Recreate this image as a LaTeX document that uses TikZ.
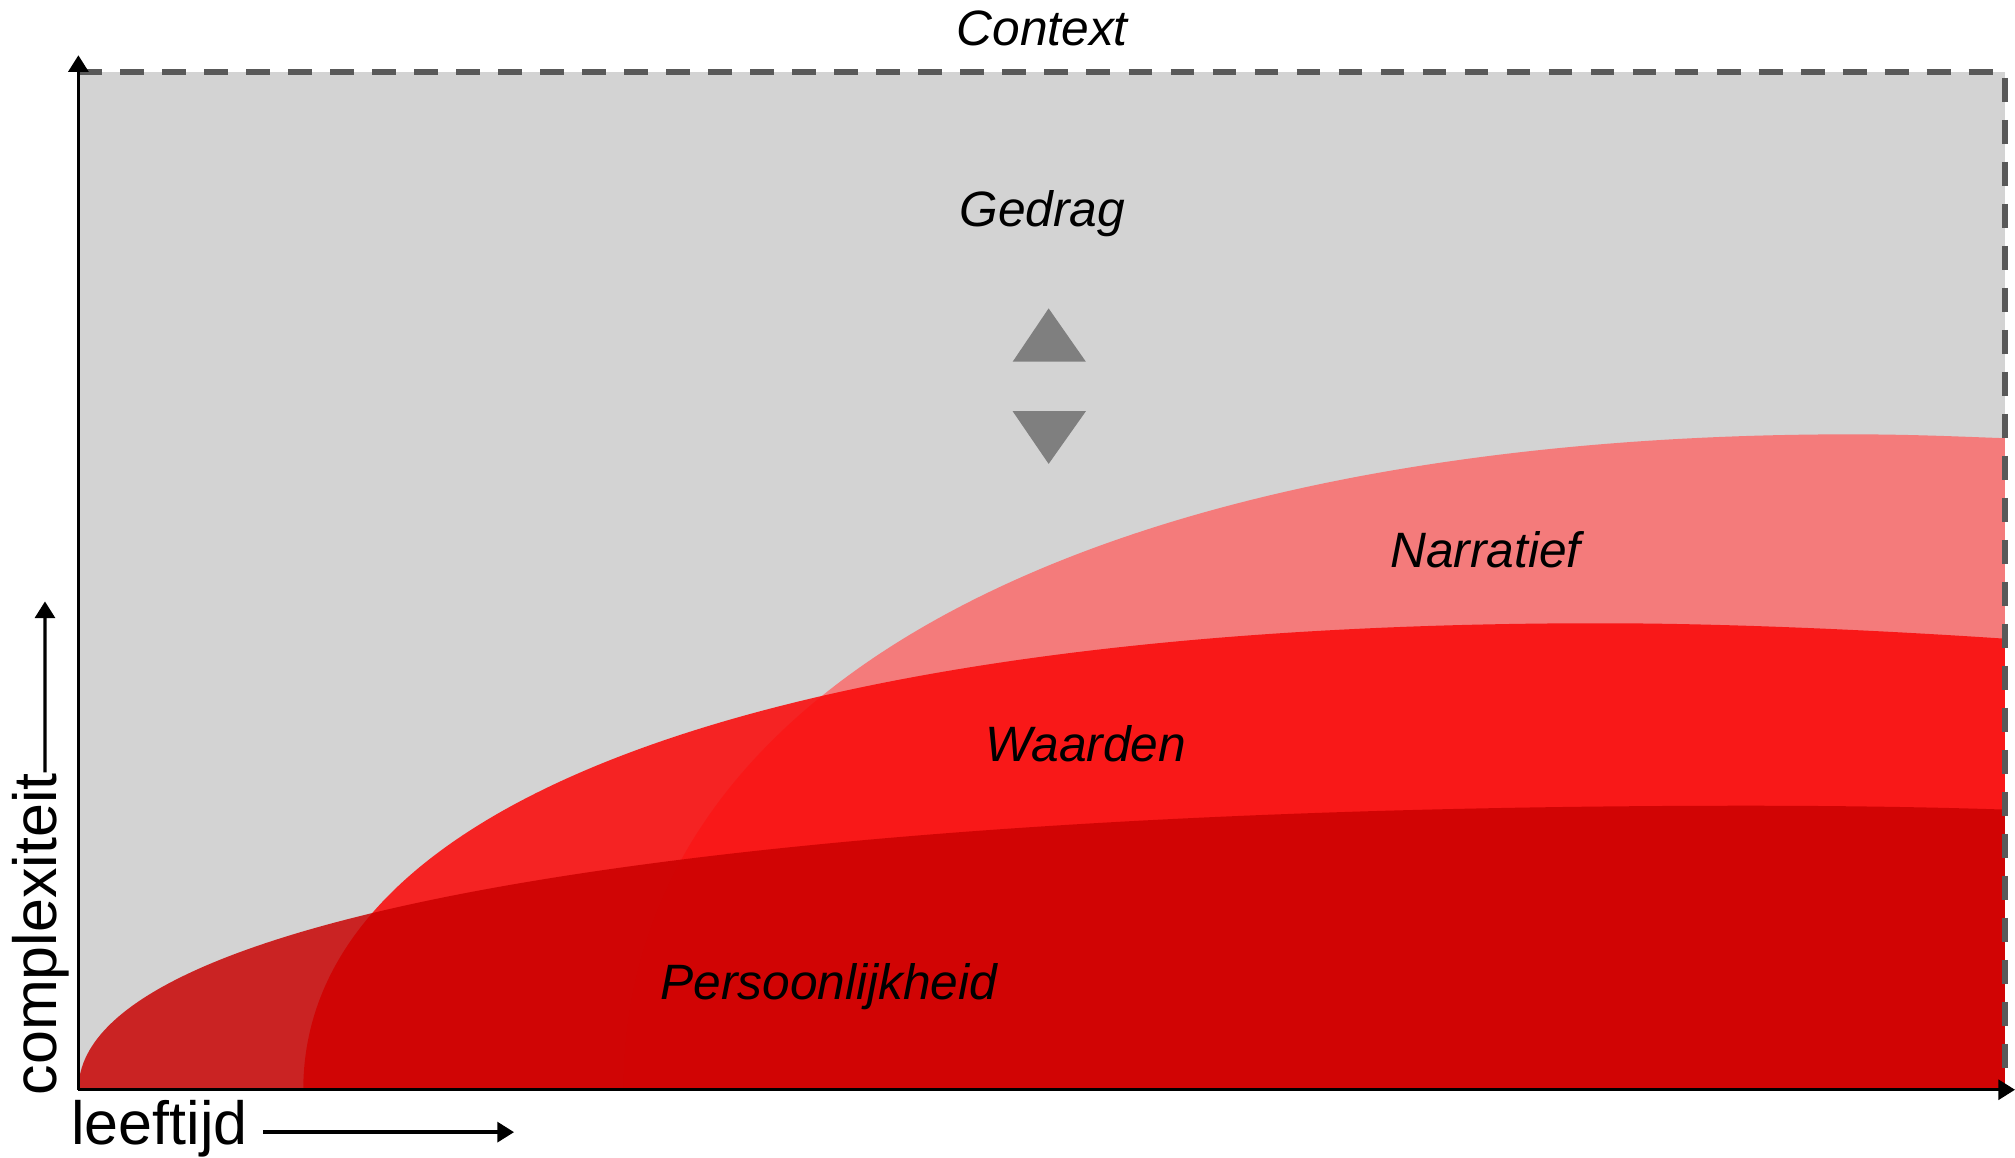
\documentclass[tikz,border=0pt]{standalone}
\usepackage{fontspec}
\setmainfont{Liberation Sans}
\usetikzlibrary{arrows.meta}
\definecolor{vlak}{HTML}{D3D3D3}
\definecolor{kader}{HTML}{595959}
\definecolor{pijlgrijs}{HTML}{7F7F7F}
\definecolor{narr}{HTML}{F47B7B}
\definecolor{waard}{HTML}{FA0A0A}
\definecolor{pers}{HTML}{C90000}
\tikzset{
  laag/.style={font=\fontsize{11}{13}\selectfont\itshape},
  asnaam/.style={font=\fontsize{13.5}{16}\selectfont},
  as/.style={line width=0.75pt,-{Triangle[length=1.3mm,width=1.55mm]}},
  kaderlijn/.style={kader,line width=1.3pt,dash pattern=on 5.3pt off 4pt}
}
\begin{document}
\begin{tikzpicture}
  \useasboundingbox (0,0) rectangle (15.68,9.01);
  \coordinate (o) at (0.61,0.53);
  \coordinate (lb) at (0.61,8.45);
  \coordinate (rb) at (15.60,8.45);
  \coordinate (ro) at (15.60,0.53);
  \coordinate (ytop) at (0.61,8.58);
  \coordinate (xend) at (15.68,0.53);
  \fill[vlak] (o) rectangle (rb);
  \fill[narr] (4.85,0.53) .. controls (4.85,3.83) and (8.80,5.63) .. (14.40,5.63)
    .. controls (14.90,5.63) and (15.30,5.61) .. (15.60,5.60) -- (ro) -- cycle;
  \fill[waard,opacity=0.875] (2.36,0.53) .. controls (2.36,2.93) and (6.45,4.16) .. (12.45,4.16)
    .. controls (13.50,4.16) and (14.70,4.10) .. (15.60,4.04) -- (ro) -- cycle;
  \fill[pers,opacity=0.83] (o) .. controls (0.61,2.03) and (6.43,2.74) .. (13.60,2.74)
    .. controls (14.30,2.74) and (15.00,2.73) .. (15.60,2.71) -- (ro) -- cycle;
  \draw[kaderlijn] (lb) -- (rb) -- (ro);
  \draw[as] (o) -- (ytop);
  \draw[as] (o) -- (xend);
  \fill[pijlgrijs] (8.16,6.61) -- (8.45,6.195) -- (7.88,6.195) -- cycle;
  \fill[pijlgrijs] (7.88,5.81) -- (8.45,5.81) -- (8.16,5.40) -- cycle;
  \node[laag] (context) at (8.11,8.79) {Context};
  \node[laag] (gedrag) at (8.11,7.35) {Gedrag};
  \node[laag] (narratief) at (11.56,4.73) {Narratief};
  \node[laag] (waarden) at (8.45,3.22) {Waarden};
  \node[laag] (persoon) at (6.45,1.33) {Persoonlijkheid};
  \node[asnaam,rotate=90,inner sep=0pt] (cplx) at (0.32,1.74) {complexiteit};
  \node[asnaam,inner sep=0pt] (leeftijd) at (1.24,0.23) {leeftijd};
  \coordinate (cplxtop) at (0.35,4.33);
  \coordinate (leeftijdend) at (4.00,0.20);
  \draw[as] (cplx.east) ++(0.03,0) -- (cplxtop);
  \draw[as] (2.05,0.20) -- (leeftijdend);
\end{tikzpicture}
\end{document}
